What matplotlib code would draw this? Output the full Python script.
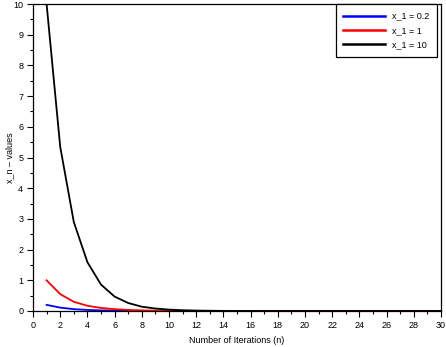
import matplotlib
matplotlib.use("Agg")
import matplotlib.pyplot as plt
from matplotlib.ticker import MultipleLocator

n = list(range(1, 31))
x_02 = [0.2, 0.11, 0.06, 0.035, 0.02, 0.012, 0.007, 0.004, 0.002, 0.001] + [0.0005] * 20
x_1 = [1.0, 0.55, 0.3, 0.17, 0.1, 0.06, 0.035, 0.02, 0.012, 0.007, 0.004, 0.002, 0.001] + [0.0005] * 17
x_10 = [10.0, 5.35, 2.9, 1.59, 0.86, 0.47, 0.26, 0.14, 0.08, 0.045, 0.025, 0.014, 0.008, 0.004, 0.002] + [0.001] * 15

labels = ["x_1 = 0.2", "x_1 = 1", "x_1 = 10"]
colors = ["#0000ff", "#ff0000", "#000000"]

plt.rcParams['font.family'] = ['Liberation Sans', 'DejaVu Sans']
fig = plt.figure(figsize=(4.46, 3.47), dpi=100)
ax = fig.add_axes([33/446, 1 - 311/347, (441-33)/446, (311-4)/347])

for ys, lab, c in zip([x_02, x_1, x_10], labels, colors):
    ax.plot(n, ys, color=c, lw=1.3, label=lab)

ax.set_xlim(0, 30)
ax.set_ylim(0, 10)
ax.xaxis.set_major_locator(MultipleLocator(2))
ax.xaxis.set_minor_locator(MultipleLocator(1))
ax.yaxis.set_major_locator(MultipleLocator(1))
ax.yaxis.set_minor_locator(MultipleLocator(0.5))
ax.tick_params(which='major', direction='out', length=4, width=0.8, labelsize=6.5, pad=3)
ax.tick_params(which='minor', direction='out', length=2.5, width=0.8)
ax.tick_params(top=False, right=False)
for s in ax.spines.values():
    s.set_linewidth(0.9)

ax.set_xlabel("Number of Iterations (n)", fontsize=6.5)
ax.set_ylabel("x_n \u2013 values", fontsize=6.5)
ax.xaxis.set_label_coords(0.5, -0.08)
ax.yaxis.set_label_coords(-0.047, 0.5)

leg = ax.legend(loc='upper right', fontsize=6.5, frameon=True, fancybox=False, framealpha=1,
                edgecolor='black', handlelength=4.6, handletextpad=0.8, borderpad=0.85,
                labelspacing=0.6, borderaxespad=0)
leg.set_bbox_to_anchor((437/446, 1 - 4/347), transform=fig.transFigure)
leg.get_frame().set_linewidth(0.9)
for l in leg.get_lines():
    l.set_linewidth(1.8)

fig.savefig("out.png", dpi=100)
